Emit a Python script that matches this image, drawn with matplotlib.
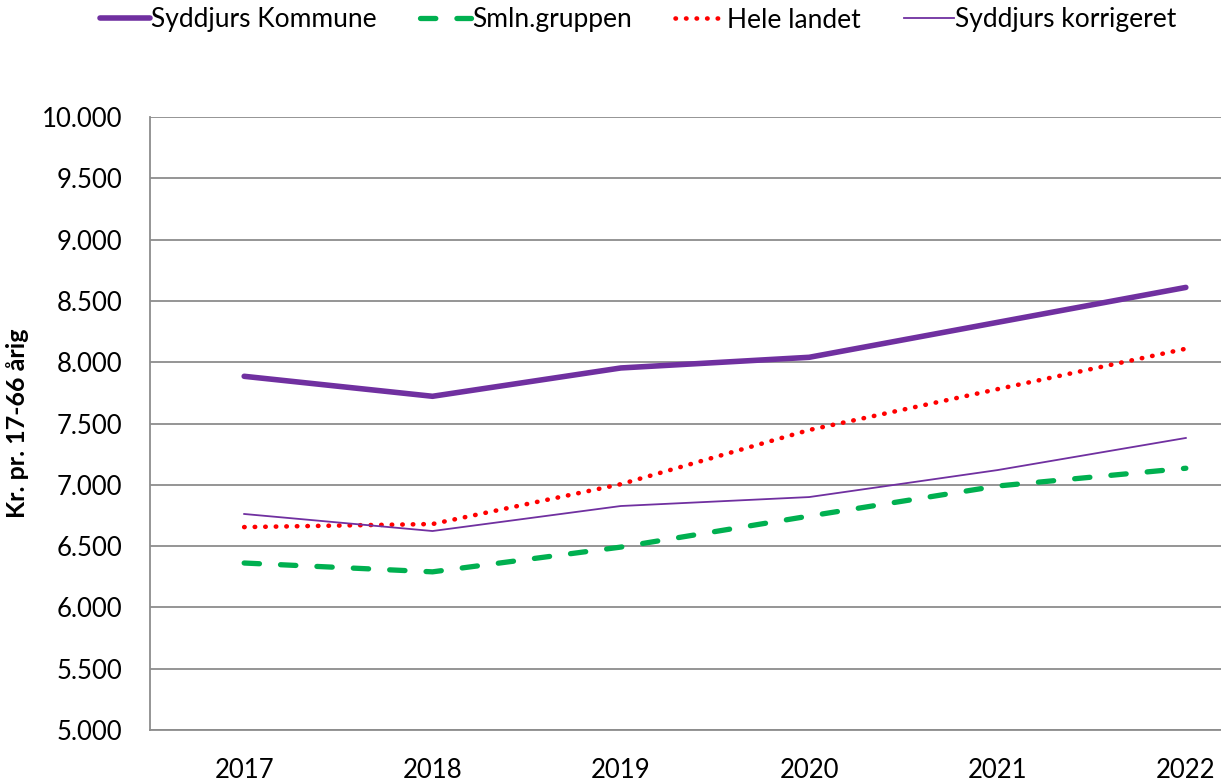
import numpy as np
import matplotlib.pyplot as plt
from matplotlib.ticker import FuncFormatter

years = ['2017', '2018', '2019', '2020', '2021', '2022']
syddjurs = [7885, 7722, 7953, 8040, 8325, 8610]
smln = [6362, 6290, 6492, 6745, 6990, 7135]
hele_landet = [6655, 6680, 7005, 7447, 7780, 8110]
korrigeret = [6762, 6623, 6827, 6900, 7120, 7382]

plt.rcParams['font.family'] = ['Lato', 'DejaVu Sans']

fig = plt.figure(figsize=(12.21, 7.82), dpi=100)
# plot area runs past the right edge of the picture, as in the reference
ax = fig.add_axes([150 / 1221, (782 - 730) / 782, 1130 / 1221, 613 / 782])

x = np.arange(len(years))
purple = '#7030a0'
ax.plot(x, syddjurs, color=purple, lw=4, solid_capstyle='round', label='Syddjurs Kommune')
ax.plot(x, smln, color='#00b050', lw=3.8, dashes=(2.9, 4.0), dash_capstyle='round', label='Smln.gruppen')
ax.plot(x, hele_landet, color='#ff0000', lw=3.3, dashes=(0.1, 2.2), dash_capstyle='round', label='Hele landet')
ax.plot(x, korrigeret, color=purple, lw=1.3, label='Syddjurs korrigeret')

ax.set_xlim(-0.5, 5.5)
ax.set_ylim(5000, 10000)
ax.set_yticks(np.arange(5000, 10001, 500))
ax.yaxis.set_major_formatter(FuncFormatter(lambda v, p: f'{int(v):,}'.replace(',', '.')))
ax.set_xticks(x)
ax.set_xticklabels(years)
ax.tick_params(axis='both', length=0, labelsize=18.5, colors='#000000')
ax.tick_params(axis='x', pad=20)
ax.tick_params(axis='y', pad=20)
ax.grid(axis='y', color='#8c8c8c', lw=1.3)
ax.set_axisbelow(True)
for s in ['top', 'right']:
    ax.spines[s].set_visible(False)
for s in ['left', 'bottom']:
    ax.spines[s].set_color('#8c8c8c')
    ax.spines[s].set_linewidth(1.3)

ax.set_ylabel('Kr. pr. 17-66 årig', fontsize=18, fontweight='bold', labelpad=9)

fig.legend(loc='center left', bbox_to_anchor=(76 / 1221, 1 - 20 / 782), ncol=4, frameon=False,
           fontsize=19, handlelength=1.9, handletextpad=0.05, columnspacing=1.65)

fig.savefig('out.png', dpi=100)
